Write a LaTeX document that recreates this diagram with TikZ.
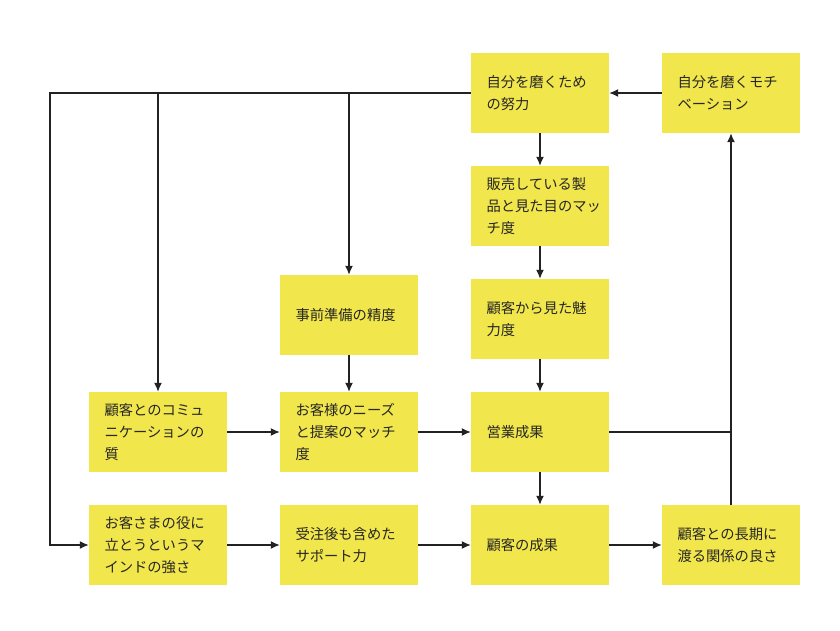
\documentclass[tikz,border=0pt]{standalone}
\usepackage{fontspec}
\setmainfont{Noto Sans CJK JP}
\usetikzlibrary{arrows.meta}
\definecolor{boxyellow}{HTML}{F1E64B}
\definecolor{linegray}{HTML}{222222}
\begin{document}
\begin{tikzpicture}[x=1pt,y=-1pt,
  box/.style={fill=boxyellow, draw=none, text width=107pt, inner xsep=15.5pt, inner ysep=0pt,
    minimum height=80pt, align=left, font=\fontsize{14.3}{22}\selectfont, text=black!85},
  conn/.style={draw=linegray, line width=1.3pt, -{Latex[length=9pt,width=8pt]}},
  plain/.style={draw=linegray, line width=1.3pt}]
\useasboundingbox (0,0) rectangle (840,630);
\node[box] (A) at (540,93) {自分を磨くため\\の努力};
\node[box] (B) at (731,93) {自分を磨くモチ\\ベーション};
\node[box] (C) at (540,206) {販売している製\\品と見た目のマッ\\チ度};
\node[box] (D) at (540,319) {顧客から見た魅\\力度};
\node[box] (E) at (349,315) {事前準備の精度};
\node[box] (F) at (158,432) {顧客とのコミュ\\ニケーションの\\質};
\node[box] (G) at (349,432) {お客様のニーズ\\と提案のマッチ\\度};
\node[box] (H) at (540,432) {営業成果};
\node[box] (I) at (158,545) {お客さまの役に\\立とうというマ\\インドの強さ};
\node[box] (J) at (349,545) {受注後も含めた\\サポート力};
\node[box] (K) at (540,545) {顧客の成果};
\node[box] (L) at (731,545) {顧客との長期に\\渡る関係の良さ};
\coordinate (cl) at (50,93);
\coordinate (cf) at (158,93);
\coordinate (ce) at (349,93);
\coordinate (ch) at (731,432);
% connectors
\draw[conn] (B) -- (A);
\draw[conn] (A.west) -- (cl) |- (I.west);
\draw[conn] (cf) -- (F.north);
\draw[conn] (ce) -- (E.north);
\draw[conn] (A) -- (C);
\draw[conn] (C) -- (D);
\draw[conn] (D) -- (H);
\draw[conn] (E) -- (G);
\draw[conn] (F) -- (G);
\draw[conn] (G) -- (H);
\draw[conn] (H) -- (K);
\draw[conn] (I) -- (J);
\draw[conn] (J) -- (K);
\draw[conn] (K) -- (L);
\draw[conn] (L.north) -- (B.south);
\draw[plain] (H.east) -- (ch);
\end{tikzpicture}
\end{document}
